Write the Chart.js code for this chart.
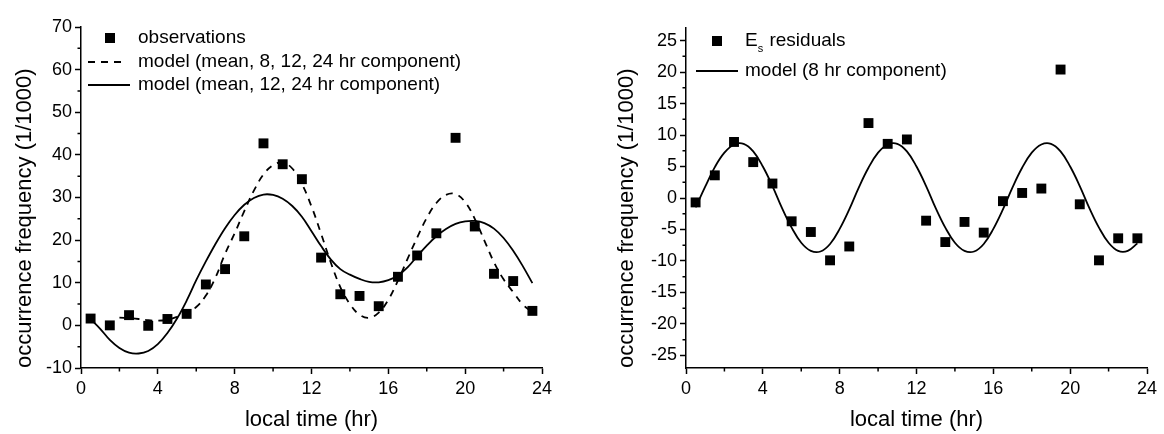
<!DOCTYPE html>
<html>
<head>
<meta charset="utf-8">
<script src="https://cdn.jsdelivr.net/npm/chart.js@4.4.1/dist/chart.umd.min.js"></script>
<style>
  html, body { margin: 0; padding: 0; background: #fff; }
  #wrap { position: relative; width: 1164px; height: 434px; overflow: hidden; }
  #leftChart { position: absolute; left: 0; top: 0; }
  #rightChart { position: absolute; left: 602px; top: 0; }
</style>
</head>
<body>
<div id="wrap">
  <canvas id="leftChart" width="582" height="434"></canvas>
  <canvas id="rightChart" width="562" height="434"></canvas>
</div>
<script>
// hourly bins (bin centres, local time)
const hours = [0.5, 1.5, 2.5, 3.5, 4.5, 5.5, 6.5, 7.5, 8.5, 9.5, 10.5, 11.5,
               12.5, 13.5, 14.5, 15.5, 16.5, 17.5, 18.5, 19.5, 20.5, 21.5, 22.5, 23.5];

// Es occurrence frequency per bin (1/1000)
const observations = [1.6, 0.0, 2.4, -0.1, 1.5, 2.7, 9.6, 13.2, 20.9, 42.7, 37.8, 34.3,
                      15.9, 7.3, 6.9, 4.5, 11.4, 16.4, 21.6, 44.0, 23.2, 12.1, 10.4, 3.4];

// what is left after removing mean, 12 and 24 hr parts
const residuals = [-0.7, 3.6, 8.9, 5.7, 2.3, -3.7, -5.4, -9.9, -7.7, 11.9, 8.6, 9.3,
                   -3.6, -7.0, -3.8, -5.5, -0.5, 0.8, 1.5, 20.4, -1.0, -9.9, -6.4, -6.4];

// fitted curves, sampled every half hour
const curveHours = [0.5, 1.0, 1.5, 2.0, 2.5, 3.0, 3.5, 4.0, 4.5, 5.0, 5.5, 6.0,
                    6.5, 7.0, 7.5, 8.0, 8.5, 9.0, 9.5, 10.0, 10.5, 11.0, 11.5, 12.0,
                    12.5, 13.0, 13.5, 14.0, 14.5, 15.0, 15.5, 16.0, 16.5, 17.0, 17.5, 18.0,
                    18.5, 19.0, 19.5, 20.0, 20.5, 21.0, 21.5, 22.0, 22.5, 23.0, 23.5];

// mean + 12 + 24 hr
const model3 = [1.5, -0.8, -3.4, -5.3, -6.4, -6.6, -6.0, -4.4, -1.8, 1.6, 5.8, 10.6,
                15.0, 19.1, 22.8, 25.9, 28.3, 29.9, 30.7, 30.6, 29.7, 28.0, 25.5, 22.1,
                18.6, 15.5, 13.2, 11.9, 10.9, 10.2, 10.1, 10.6, 11.7, 13.6, 16.2, 18.7,
                20.9, 22.6, 23.8, 24.4, 24.5, 24.0, 22.7, 20.5, 17.5, 13.9, 9.9];

// mean + 8 + 12 + 24 hr (drawn from 2 hr on)
const model4Hours = [2.0, 2.5, 3.0, 3.5, 4.0, 4.5, 5.0, 5.5, 6.0, 6.5, 7.0, 7.5,
                     8.0, 8.5, 9.0, 9.5, 10.0, 10.5, 11.0, 11.5, 12.0, 12.5, 13.0, 13.5,
                     14.0, 14.5, 15.0, 15.5, 16.0, 16.5, 17.0, 17.5, 18.0, 18.5, 19.0, 19.5,
                     20.0, 20.5, 21.0, 21.5, 22.0, 22.5, 23.0, 23.5];
const model4 = [1.8, 1.7, 1.5, 1.2, 1.1, 1.3, 2.0, 3.0, 4.3, 7.0, 11.2, 16.8,
                21.6, 26.8, 31.6, 35.4, 37.6, 38.2, 36.8, 33.2, 27.9, 21.5, 14.8, 9.0,
                5.0, 2.5, 1.8, 3.0, 6.0, 10.5, 15.6, 20.6, 25.2, 28.7, 30.6, 30.8,
                28.9, 25.0, 19.9, 14.8, 10.8, 7.8, 4.9, 3.1];

// 8 hr component
const model8 = [-1.5, 1.8, 4.9, 7.2, 8.5, 8.6, 7.4, 5.0, 1.9, -1.6, -4.7, -7.1,
                -8.4, -8.5, -7.3, -4.9, -1.8, 1.7, 4.8, 7.2, 8.5, 8.6, 7.4, 5.0,
                1.9, -1.6, -4.7, -7.1, -8.4, -8.5, -7.3, -4.9, -1.8, 1.7, 4.8, 7.2,
                8.5, 8.6, 7.4, 5.0, 1.9, -1.6, -4.7, -7.1, -8.4, -8.4, -7.2];

const xTicks = [0, 4, 8, 12, 16, 20, 24];
const xMinor = [2, 6, 10, 14, 18, 22];
const leftTicks = [-10, 0, 10, 20, 30, 40, 50, 60, 70];
const leftMinor = [-5, 5, 15, 25, 35, 45, 55, 65];
const rightTicks = [-25, -20, -15, -10, -5, 0, 5, 10, 15, 20, 25];
const rightMinor = [-22.5, -17.5, -12.5, -7.5, -2.5, 2.5, 7.5, 12.5, 17.5, 22.5];

const FONT = '"Liberation Sans", Arial, Helvetica, sans-serif';
Chart.defaults.font.family = FONT;
Chart.defaults.color = '#000';

const pairs = (xs, ys) => xs.map((x, i) => ({ x: x, y: ys[i] }));

// small unlabeled ticks between the major ones
const minorTicks = {
  id: 'minorTicks',
  afterDraw(chart, args, opts) {
    const { ctx, chartArea } = chart;
    ctx.save();
    ctx.strokeStyle = '#000';
    ctx.lineWidth = 1.5;
    ctx.beginPath();
    opts.x.forEach(v => {
      const px = chart.scales.x.getPixelForValue(v);
      ctx.moveTo(px, chartArea.bottom);
      ctx.lineTo(px, chartArea.bottom + opts.length);
    });
    opts.y.forEach(v => {
      const py = chart.scales.y.getPixelForValue(v);
      ctx.moveTo(chartArea.left, py);
      ctx.lineTo(chartArea.left - opts.length, py);
    });
    ctx.stroke();
    ctx.restore();
  }
};

// legend drawn inside the plot, top-left
const insetLegend = {
  id: 'insetLegend',
  afterDraw(chart, args, opts) {
    const { ctx, chartArea } = chart;
    ctx.save();
    ctx.fillStyle = '#000';
    ctx.strokeStyle = '#000';
    ctx.textBaseline = 'middle';
    opts.items.forEach(item => {
      const y = chartArea.top + item.dy;
      if (item.symbol === 'square') {
        const s = 10;
        const cx = chartArea.left + opts.markX;
        ctx.fillRect(cx - s / 2, y - s / 2, s, s);
      } else {
        ctx.lineWidth = 1.8;
        ctx.setLineDash(item.symbol === 'dash' ? [7, 6] : []);
        ctx.beginPath();
        ctx.moveTo(chartArea.left + opts.lineFrom, y);
        ctx.lineTo(chartArea.left + item.lineTo, y);
        ctx.stroke();
        ctx.setLineDash([]);
      }
      let x = chartArea.left + opts.textX;
      item.text.forEach(part => {
        ctx.font = (part.sub ? '11px ' : '19px ') + FONT;
        ctx.fillText(part.t, x, y + (part.sub ? 8 : 0));
        x += ctx.measureText(part.t).width + (part.sub ? 1 : 0);
      });
    });
    ctx.restore();
  }
};

function axisX() {
  return {
    type: 'linear', min: 0, max: 24,
    afterBuildTicks: s => { s.ticks = xTicks.map(v => ({ value: v })); },
    afterFit: s => { s.height = 66; },
    border: { display: true, color: '#000', width: 1.5 },
    grid: { display: true, drawOnChartArea: false, drawTicks: true, tickLength: 6,
            tickColor: '#000', tickWidth: 1.5 },
    ticks: { font: { size: 18 }, color: '#000', padding: 4, maxRotation: 0 },
    title: { display: true, text: 'local time (hr)', font: { size: 22 }, color: '#000',
             padding: { top: 0, bottom: 1 } }
  };
}

function axisY(min, max, tickList, width) {
  return {
    type: 'linear', min: min, max: max,
    afterBuildTicks: s => { s.ticks = tickList.map(v => ({ value: v })); },
    afterFit: s => { s.width = width; },
    border: { display: true, color: '#000', width: 1.5 },
    grid: { display: true, drawOnChartArea: false, drawTicks: true, tickLength: 6,
            tickColor: '#000', tickWidth: 1.5 },
    ticks: { font: { size: 18 }, color: '#000', padding: 3 },
    title: { display: true, text: 'occurrence frequency (1/1000)', font: { size: 22 },
             color: '#000', align: 'start', padding: { top: 12, bottom: 0 } }
  };
}

const pointSet = data => ({
  data: data, showLine: false, order: 0,
  pointStyle: 'rect', pointRadius: 7, pointHoverRadius: 7,
  backgroundColor: '#000', borderColor: '#000', borderWidth: 0
});

const lineSet = (data, dash) => ({
  data: data, showLine: true, order: 1,
  pointRadius: 0, borderColor: '#000', borderWidth: 1.8, borderDash: dash,
  tension: 0.4, fill: false
});

new Chart(document.getElementById('leftChart'), {
  type: 'scatter',
  data: {
    datasets: [
      pointSet(pairs(hours, observations)),
      lineSet(pairs(model4Hours, model4), [7, 6]),
      lineSet(pairs(curveHours, model3), [])
    ]
  },
  options: {
    responsive: false,
    animation: false,
    layout: { padding: { left: 0, right: 40, top: 27, bottom: 0 } },
    scales: { x: axisX(), y: axisY(-10, 70, leftTicks, 81) },
    plugins: {
      legend: { display: false },
      tooltip: { enabled: false },
      minorTicks: { x: xMinor, y: leftMinor, length: 3.5 },
      insetLegend: {
        markX: 29, lineFrom: 7, textX: 57,
        items: [
          { symbol: 'square', dy: 11, text: [{ t: 'observations' }] },
          { symbol: 'dash', dy: 35, lineTo: 44, text: [{ t: 'model (mean, 8, 12, 24 hr component)' }] },
          { symbol: 'line', dy: 58, lineTo: 49, text: [{ t: 'model (mean, 12, 24 hr component)' }] }
        ]
      }
    }
  },
  plugins: [minorTicks, insetLegend]
});

new Chart(document.getElementById('rightChart'), {
  type: 'scatter',
  data: {
    datasets: [
      pointSet(pairs(hours, residuals)),
      lineSet(pairs(curveHours, model8), [])
    ]
  },
  options: {
    responsive: false,
    animation: false,
    layout: { padding: { left: 0, right: 17, top: 28, bottom: 0 } },
    scales: { x: axisX(), y: axisY(-27, 27, rightTicks, 84) },
    plugins: {
      legend: { display: false },
      tooltip: { enabled: false },
      minorTicks: { x: xMinor, y: rightMinor, length: 3.5 },
      insetLegend: {
        markX: 31, lineFrom: 10, textX: 59,
        items: [
          { symbol: 'square', dy: 13, text: [{ t: 'E' }, { t: 's', sub: true }, { t: ' residuals' }] },
          { symbol: 'line', dy: 43, lineTo: 52, text: [{ t: 'model (8 hr component)' }] }
        ]
      }
    }
  },
  plugins: [minorTicks, insetLegend]
});
</script>
</body>
</html>
